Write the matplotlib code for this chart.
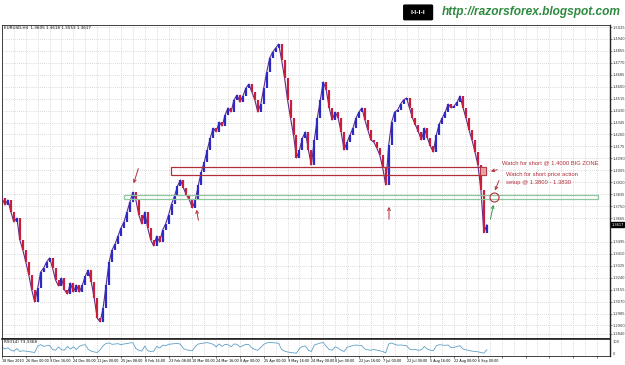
import numpy as np
import matplotlib.pyplot as plt
from matplotlib.patches import Rectangle, FancyBboxPatch

# EURUSD H4 closes (one value per ~3 px column)
closes = [
    1.3808, 1.3758, 1.3794, 1.3708, 1.3637, 1.3665, 1.3509, 1.3438, 1.3352, 1.3260,
    1.3153, 1.3067, 1.3167, 1.3281, 1.3309, 1.3352, 1.3381, 1.3309, 1.3224, 1.3181,
    1.3238, 1.3153, 1.3124, 1.3203, 1.3138, 1.3188, 1.3138, 1.3188, 1.3252, 1.3295,
    1.3210, 1.3096, 1.2953, 1.2925, 1.3025, 1.3188, 1.3352, 1.3438, 1.3480, 1.3537,
    1.3594, 1.3637, 1.3708, 1.3779, 1.3850, 1.3794, 1.3687, 1.3623, 1.3708, 1.3594,
    1.3509, 1.3466, 1.3537, 1.3494, 1.3580, 1.3623, 1.3687, 1.3765, 1.3822, 1.3893,
    1.3936, 1.3879, 1.3829, 1.3794, 1.3737, 1.3794, 1.3900, 1.3993, 1.4064, 1.4150,
    1.4235, 1.4306, 1.4278, 1.4349, 1.4320, 1.4399, 1.4449, 1.4420, 1.4506, 1.4541,
    1.4491, 1.4534, 1.4591, 1.4619, 1.4562, 1.4506, 1.4420, 1.4477, 1.4591, 1.4705,
    1.4805, 1.4847, 1.4876, 1.4904, 1.4790, 1.4662, 1.4506, 1.4377, 1.4256, 1.4093,
    1.4150, 1.4235, 1.4278, 1.4150, 1.4043, 1.4221, 1.4377, 1.4506, 1.4634, 1.4577,
    1.4449, 1.4363, 1.4420, 1.4377, 1.4278, 1.4150, 1.4206, 1.4256, 1.4306, 1.4377,
    1.4420, 1.4449, 1.4363, 1.4292, 1.4221, 1.4206, 1.4164, 1.4114, 1.4021, 1.3900,
    1.4185, 1.4349, 1.4420, 1.4434, 1.4477, 1.4506, 1.4520, 1.4449, 1.4377, 1.4328,
    1.4278, 1.4221, 1.4306, 1.4235, 1.4178, 1.4135, 1.4256, 1.4335, 1.4377, 1.4420,
    1.4477, 1.4449, 1.4463, 1.4491, 1.4534, 1.4449, 1.4377, 1.4292, 1.4221, 1.4135,
    1.4043, 1.3865, 1.3560, 1.3617,
]

rsi = [
    55, 42, 50, 35, 30, 45, 28, 32, 30, 27, 25, 22,
    60, 68, 58, 62, 64,
    40, 35, 55, 38, 36, 58,
    42, 55, 40, 58, 65, 68, 40, 30,
    25, 22, 38, 62,
    75, 78, 70, 72, 74, 68, 72, 75, 78, 80,
    45, 35, 30, 60, 32, 28, 30, 58, 48,
    65, 62, 70, 72, 74, 76, 70,
    45, 38, 35, 32, 58,
    72, 75, 78, 80, 76, 70, 55, 72, 58, 70, 68, 55, 72, 70, 55, 62, 70,
    68, 48, 40, 35, 52,
    70, 78, 82, 80, 78, 76,
    40, 30, 25, 22, 20, 18,
    45, 58, 60, 35, 28,
    65, 72, 78, 80, 58,
    40, 35, 55, 48, 35, 28,
    52, 58, 62, 66, 64, 62,
    42, 38, 35, 40, 36, 32, 28, 20,
    72, 78, 70, 65, 66, 64, 62,
    42, 38, 40, 35, 38, 58, 42, 36, 32,
    62, 68, 66, 64, 66, 50, 52, 58, 62,
    42, 38, 34, 30, 28, 26, 22, 18, 38,
]

time_labels = ["18 Nov 2010", "26 Nov 00:00", "9 Dec 16:00", "24 Dec 00:00",
               "11 Jan 00:00", "25 Jan 08:00", "8 Feb 16:00", "23 Feb 08:00",
               "10 Mar 00:00", "24 Mar 16:00", "8 Apr 00:00", "25 Apr 00:00",
               "9 May 16:00", "24 May 00:00", "8 Jun 00:00", "22 Jun 16:00",
               "7 Jul 00:00", "22 Jul 00:00", "5 Aug 16:00", "22 Aug 00:00",
               "6 Sep 00:00"]

price_ticks = [1.5025, 1.4940, 1.4855, 1.4770, 1.4685, 1.4600, 1.4515, 1.4430,
               1.4345, 1.4260, 1.4175, 1.4090, 1.4005, 1.3920, 1.3835, 1.3750,
               1.3665, 1.3495, 1.3410, 1.3325, 1.3240, 1.3155, 1.3070,
               1.2985, 1.2900, 1.2840]

big_zone = (1.3975, 1.4025)
setup_zone = (1.3800, 1.3830)
last_price = 1.3617

UP = '#2a2ac8'
DN = '#c81e3c'
ZONE_RED = '#b0303a'
ZONE_GREEN = '#8fc8a0'
GRID = '#b8b8b8'

fig = plt.figure(figsize=(6.25, 3.65), dpi=100)
ax = fig.add_axes([0.0032, 0.074, 0.9728, 0.8575])
ax2 = fig.add_axes([0.0032, 0.024, 0.9728, 0.0466], sharex=ax)

# price bars
x = np.arange(len(closes))
c = np.array(closes)
prev = np.r_[c[0], c[:-1]]
up = c >= prev
ax.plot(x, c, color='#5a2a8a', lw=0.8, zorder=3)
ax.vlines(x[up], prev[up], c[up], color=UP, lw=1.6, zorder=4)
ax.vlines(x[~up], c[~up], prev[~up], color=DN, lw=1.6, zorder=4)

ax.set_xlim(0, 204.4)
ax.set_ylim(1.2811, 1.50395)

# grid
major = np.arange(0, 204, 8)
ax.set_xticks(major)
ax.set_xticks(np.arange(4, 204, 8), minor=True)
ax.set_yticks(price_ticks)
ax.set_yticklabels([f'{p:.4f}' for p in price_ticks])
ax.grid(True, which='both', color=GRID, lw=0.5, ls=(0, (1, 2)))
ax.yaxis.tick_right()
ax.tick_params(axis='y', labelsize=2.6, length=1.5, width=0.4, pad=0.5, colors='#333333')
ax.tick_params(axis='x', which='both', length=0, labelbottom=False)
for s in ax.spines.values():
    s.set_color('#222222')
    s.set_linewidth(0.6)
ax.spines['right'].set_linewidth(1.0)

# zones
ax.add_patch(Rectangle((56.8, big_zone[0]), 162.7 - 56.8, big_zone[1] - big_zone[0],
                       fill=False, ec=ZONE_RED, lw=0.9, zorder=5))
ax.add_patch(Rectangle((160.6, big_zone[0]), 2.1, big_zone[1] - big_zone[0],
                       fc='#e8a0a8', ec=ZONE_RED, lw=0.6, zorder=5))
ax.add_patch(Rectangle((41.0, setup_zone[0]), 200.3 - 41.0, setup_zone[1] - setup_zone[0],
                       fill=False, ec=ZONE_GREEN, lw=0.9, zorder=5))

arr = dict(arrowstyle='->', color=ZONE_RED, lw=0.7, mutation_scale=5)
ax.annotate('', xy=(44.0, 1.3893), xytext=(46.1, 1.4036), arrowprops=arr, zorder=6)
ax.annotate('', xy=(65.2, 1.3744), xytext=(66.2, 1.3630), arrowprops=arr, zorder=6)
ax.annotate('', xy=(130.1, 1.3765), xytext=(130.1, 1.3637), arrowprops=arr, zorder=6)
ax.annotate('', xy=(163.4, 1.3993), xytext=(167.4, 1.4014), arrowprops=arr, zorder=6)
ax.annotate('', xy=(165.4, 1.3843), xytext=(167.4, 1.3950), arrowprops=arr, zorder=6)
ax.annotate('', xy=(165.4, 1.3779), xytext=(164.0, 1.3637),
            arrowprops=dict(arrowstyle='->', color='#3a9a50', lw=0.7, mutation_scale=5), zorder=6)
ax.plot([165.4], [1.3815], 'o', ms=6.5, mfc='none', mec=ZONE_RED, mew=0.8, zorder=6)

tfont = dict(fontsize=4.2, color=ZONE_RED, family='Liberation Sans', va='center')
ax.text(168.1, 1.4057, 'Watch for short @ 1.4000 BIG ZONE', **tfont)
ax.text(169.4, 1.3972, 'Watch for short price action', **tfont)
ax.text(169.4, 1.3915, 'setup @ 1.3800 - 1.3830', **tfont)

ax.text(0.003, 0.996, 'EURUSD,H4  1.3605 1.3618 1.3553 1.3617', transform=ax.transAxes,
        fontsize=3, va='top', ha='left', color='#111111')
ax.text(1.002, last_price, f'{last_price:.4f}', transform=ax.get_yaxis_transform(),
        fontsize=2.6, color='white', va='center', ha='left',
        bbox=dict(boxstyle='square,pad=0.15', fc='black', ec='black'))

# RSI sub-window
ax2.plot(np.arange(len(rsi)), rsi, color='#5fa0c8', lw=0.6)
ax2.set_ylim(0, 100)
ax2.set_yticks([])
ax2.text(1.004, 0.97, '100', transform=ax2.transAxes, fontsize=2.6, va='top', ha='left',
         color='#333333')
ax2.text(1.004, 0.03, '0', transform=ax2.transAxes, fontsize=2.6, va='bottom', ha='left',
         color='#333333')
ax2.grid(True, axis='x', which='both', color=GRID, lw=0.5, ls=(0, (1, 2)))
ax2.set_xticks(major)
ax2.set_xticklabels(time_labels + [''] * (len(major) - len(time_labels)), ha='left')
ax2.tick_params(axis='x', which='major', length=1.5, width=0.4, labelsize=2.4, pad=0.5,
                labelbottom=True)
ax2.tick_params(axis='x', which='minor', length=0)
for s in ax2.spines.values():
    s.set_color('#222222')
    s.set_linewidth(0.6)
ax2.spines['top'].set_linewidth(1.2)
ax2.spines['right'].set_linewidth(1.0)
ax2.text(0.003, 0.95, 'RSI(14) 73.3368', transform=ax2.transAxes, fontsize=3,
         va='top', ha='left', color='#111111')

# header logo + url
fig.patches.append(FancyBboxPatch((0.648, 0.948), 0.042, 0.036,
                                  boxstyle='round,pad=0.002', transform=fig.transFigure,
                                  fc='black', ec='black'))
fig.text(0.669, 0.966, 'I-I-I-I', color='white', fontsize=4, fontweight='bold',
         ha='center', va='center')
fig.text(0.993, 0.966, 'http://razorsforex.blogspot.com', color='#2d8a3e',
         fontsize=8.6, fontweight='bold', style='italic', family='Liberation Sans',
         ha='right', va='center')

fig.savefig('out.png', dpi=100)
